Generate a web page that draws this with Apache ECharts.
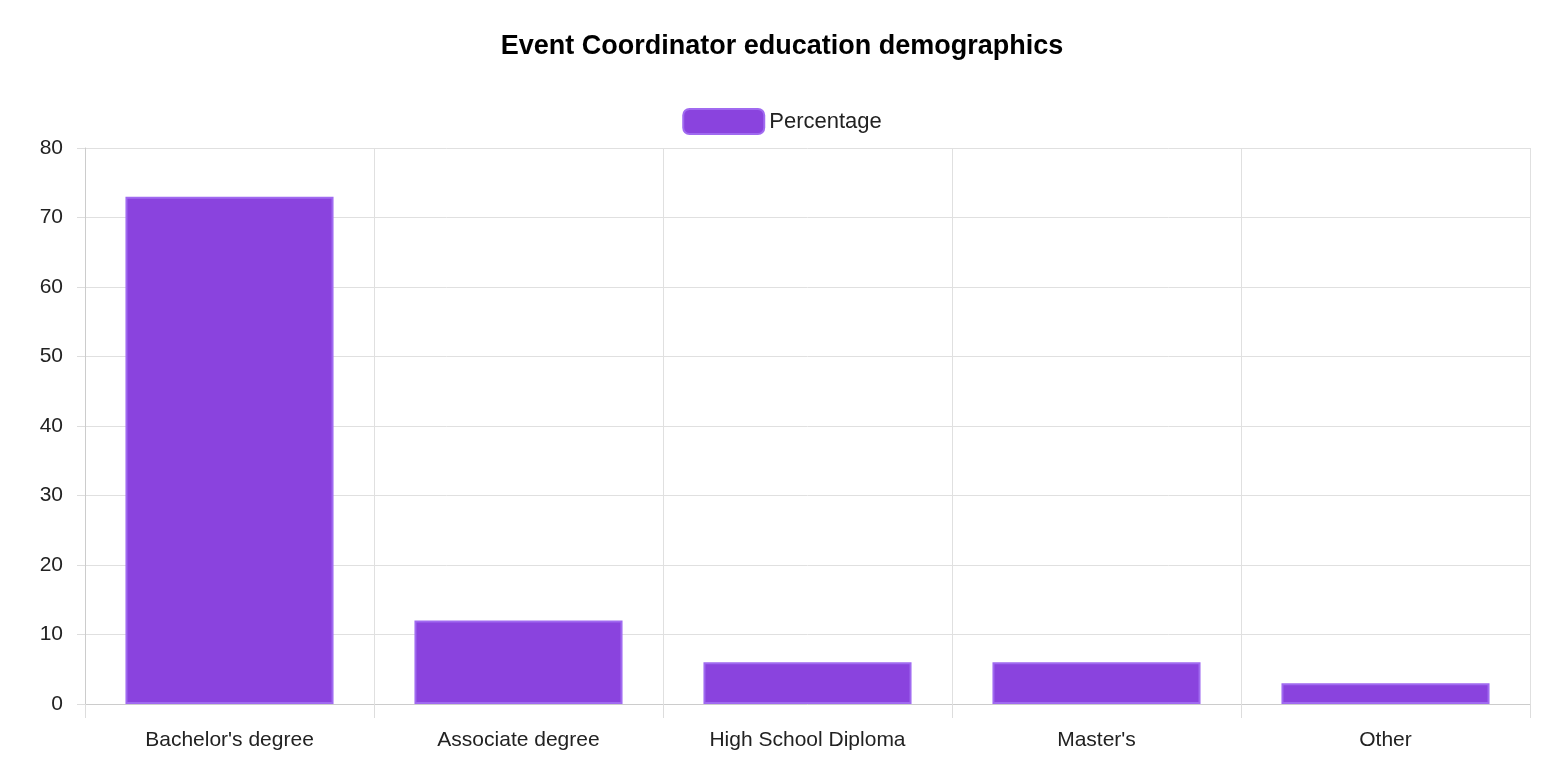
<!DOCTYPE html>
<html>
<head>
<meta charset="utf-8">
<script src="https://cdn.jsdelivr.net/npm/echarts@6/dist/echarts.min.js"></script>
<style>
  html, body { margin: 0; padding: 0; background: #fff; }
  #chart { width: 1564px; height: 774px; }
</style>
</head>
<body>
<div id="chart"></div>
<script>
// 学历分布数据
var categories = ["Bachelor's degree", "Associate degree", "High School Diploma", "Master's", "Other"];
var percentages = [73, 12, 6, 6, 3];
var yTicks = [0, 10, 20, 30, 40, 50, 60, 70, 80];

var myChart = echarts.init(document.getElementById('chart'));
var font = 'Helvetica, Arial, "Liberation Sans", sans-serif';
var option = {
    animation: false,
    textStyle: { fontFamily: font },
    title: {
        text: 'Event Coordinator education demographics',
        left: 'center', top: 28,
        textStyle: { fontSize: 27, fontWeight: 'bold', color: '#000', fontFamily: font }
    },
    legend: {
        top: 103, left: 'center',
        itemWidth: 81, itemHeight: 25, itemGap: 10,
        textStyle: { fontSize: 22, color: '#222', fontFamily: font },
        data: ['Percentage']
    },
    grid: { left: 85, right: 34, top: 148, bottom: 70, containLabel: false },
    xAxis: {
        type: 'category',
        data: categories,
        axisLine: { lineStyle: { color: '#ccc' } },
        axisTick: { show: true, length: 14, lineStyle: { color: '#ddd' } },
        axisLabel: { fontSize: 21, color: '#222', margin: 26, fontFamily: font },
        splitLine: { show: true, lineStyle: { color: '#e0e0e0' } }
    },
    yAxis: {
        type: 'value',
        min: yTicks[0], max: yTicks[yTicks.length - 1], interval: 10,
        axisLine: { show: true, lineStyle: { color: '#ccc' } },
        axisTick: { show: true, length: 8, lineStyle: { color: '#ddd' } },
        axisLabel: { fontSize: 21, color: '#222', margin: 22, fontFamily: font },
        splitLine: { show: true, lineStyle: { color: '#e0e0e0' } }
    },
    series: [{
        name: 'Percentage',
        type: 'bar',
        data: percentages,
        barCategoryGap: '28%',
        itemStyle: { color: '#8A43DE', borderColor: '#A06AF0', borderWidth: 2 }
    }]
};
myChart.setOption(option);
</script>
</body>
</html>
